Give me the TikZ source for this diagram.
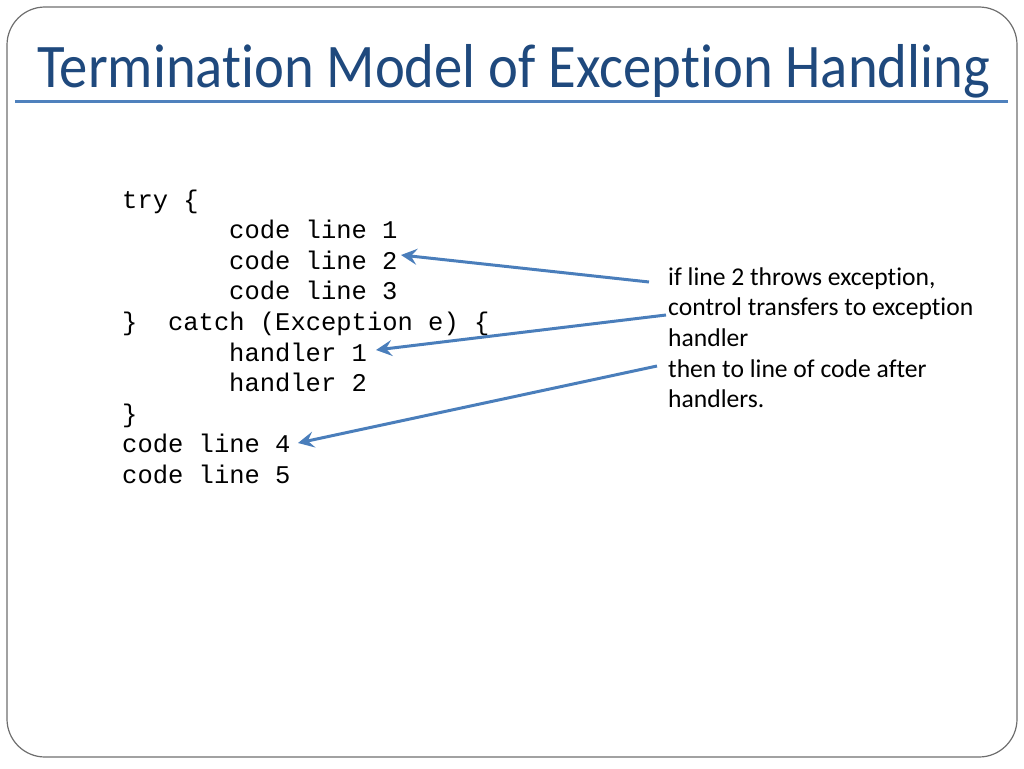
\documentclass[tikz,border=0pt]{standalone}
\usepackage{fontspec}
\setmainfont[Ligatures=NoCommon]{Carlito}
\setmonofont{Liberation Mono}
\usetikzlibrary{arrows.meta}
\definecolor{titleblue}{RGB}{31,73,125}
\definecolor{rulblue}{RGB}{79,129,189}
\definecolor{arrblue}{RGB}{74,126,187}
\definecolor{framegray}{RGB}{110,110,110}
\tikzset{
  codeline/.style={anchor=base west, inner sep=0pt, font=\fontsize{25.5}{30}\ttfamily},
  notetext/.style={anchor=base west, inner sep=0pt, font=\fontsize{25.6}{30}\selectfont},
  pointer/.style={draw=arrblue, line width=3pt, -{Stealth[length=16pt,width=16pt,inset=6pt]}}
}
\begin{document}
\begin{tikzpicture}[x=1pt,y=-1pt]
\useasboundingbox (0,0) rectangle (1024,768);
\draw[framegray, line width=1.2pt, rounded corners=38pt] (7,7) rectangle (1017,757);
\node[anchor=base west, inner sep=0pt, text=titleblue, font=\fontsize{62}{70}\selectfont] (title) at (37,88) {\resizebox{953pt}{\height}{Termination Model of Exception Handling}};
\draw[rulblue, line width=3pt] (15,101) -- (1008,101);
% code
\node[codeline] (c0) at (122,208) {try \{};
\node[codeline] (c1) at (229,238.6) {code line 1};
\node[codeline] (c2) at (229,269.2) {code line 2};
\node[codeline] (c3) at (229,299.8) {code line 3};
\node[codeline] (c4) at (122,330.4) {\}\ \ catch (Exception e) \{};
\node[codeline] (c5) at (229,361) {handler 1};
\node[codeline] (c6) at (229,391.6) {handler 2};
\node[codeline] (c7) at (122,422.2) {\}};
\node[codeline] (c8) at (122,452.8) {code line 4};
\node[codeline] (c9) at (122,483.4) {code line 5};
% note
\node[notetext] (n1) at (668,285) {if line 2 throws exception,};
\node[notetext] (n2) at (668,315.7) {control transfers to exception};
\node[notetext] (n3) at (668,346.4) {handler};
\node[notetext] (n4) at (668,377.1) {then to line of code after};
\node[notetext] (n5) at (668,407.8) {handlers.};
% arrows
\coordinate (s1) at (649,282);
\coordinate (e1) at (401,255);
\coordinate (s2) at (666,315);
\coordinate (e2) at (376,350);
\coordinate (s3) at (657,366);
\coordinate (e3) at (298,443);
\draw[pointer] (s1) -- (e1);
\draw[pointer] (s2) -- (e2);
\draw[pointer] (s3) -- (e3);
\end{tikzpicture}
\end{document}
